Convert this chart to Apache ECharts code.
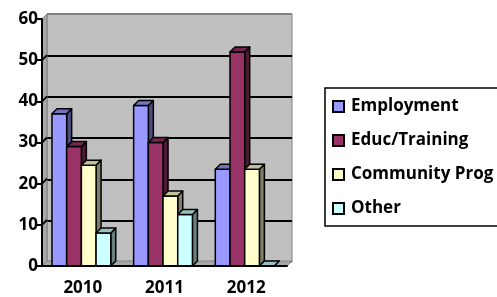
<!DOCTYPE html>
<html>
<head>
    <meta charset="utf-8">
    <script src="https://cdn.jsdelivr.net/npm/echarts@6/dist/echarts.min.js"></script>
    <style>
        html, body { margin: 0; padding: 0; background: #fff; }
    </style>
</head>
<body>
<div id="main" style="width: 497px;height:297px;"></div>
<script type="text/javascript">
    // chart data
    const years = ['2010', '2011', '2012'];
    const employment = [37, 39, 23.5];
    const educTraining = [29, 30, 52];
    const communityProg = [24.5, 17, 23.5];
    const other = [8, 12.5, 0];
    const gridValues = [10, 20, 30, 40, 50];

    const font = 'Open Sans';
    const depth = 5;

    // front face / top face / side face colours per series
    const looks = [
        {name: 'Employment', data: employment, front: '#9999ff', top: '#7373c0', side: '#4d4d80'},
        {name: 'Educ/Training', data: educTraining, front: '#993366', top: '#73264d', side: '#4d1a33'},
        {name: 'Community Prog', data: communityProg, front: '#ffffcc', top: '#c0c099', side: '#808066'},
        {name: 'Other', data: other, front: '#ccffff', top: '#99c0c0', side: '#668080'}
    ];

    function barRenderer(k, look) {
        return function (params, api) {
            const i = api.value(0), v = api.value(1);
            const base = api.coord([i, 0]);
            const tip = api.coord([i, v]);
            const band = api.size([1, 0])[0];
            const w = band * 0.18;
            const x0 = base[0] - band / 2 + band * 0.122 + k * w;
            const yT = tip[1], yB = base[1];
            const line = {stroke: '#000', lineWidth: 1.5, lineJoin: 'round'};
            return {
                type: 'group', children: [
                    {type: 'polygon', shape: {points: [[x0 + w, yT], [x0 + w + depth, yT - depth], [x0 + w + depth, yB - depth], [x0 + w, yB]]},
                        style: Object.assign({fill: look.side}, line)},
                    {type: 'rect', shape: {x: x0, y: yT, width: w, height: yB - yT},
                        style: Object.assign({fill: look.front}, line)},
                    {type: 'polygon', shape: {points: [[x0, yT], [x0 + depth, yT - depth], [x0 + w + depth, yT - depth], [x0 + w, yT]]},
                        style: Object.assign({fill: look.top}, line)}
                ]
            };
        };
    }

    // left wall and floor of the 3D box
    function wallRenderer(params, api) {
        const cs = params.coordSys;
        const x = cs.x, y = cs.y, w = cs.width, h = cs.height;
        const children = [
            {type: 'polygon', shape: {points: [[x, y], [x + depth, y - depth], [x + depth, y + h - depth], [x, y + h]]},
                style: {fill: '#a8a8a8', stroke: '#808080', lineWidth: 1}},
            {type: 'polygon', shape: {points: [[x, y + h], [x + depth, y + h - depth], [x + w + depth, y + h - depth], [x + w, y + h]]},
                style: {fill: '#a8a8a8', stroke: '#808080', lineWidth: 1}}
        ];
        gridValues.forEach(function (v) {
            const p = api.coord([0, v]);
            children.push({type: 'line', shape: {x1: x, y1: p[1], x2: x + depth, y2: p[1] - depth},
                style: {stroke: '#000', lineWidth: 2}});
        });
        return {type: 'group', children: children};
    }

    const myChart = echarts.init(document.getElementById('main'));

    const series = [{
        type: 'custom',
        name: 'walls',
        xAxisIndex: 0,
        yAxisIndex: 0,
        data: [[0, 0]],
        renderItem: wallRenderer,
        silent: true,
        z: 1
    }];
    looks.forEach(function (look, k) {
        series.push({
            type: 'custom',
            name: look.name,
            xAxisIndex: 0,
            yAxisIndex: 0,
            itemStyle: {color: look.front},
            encode: {x: 0, y: 1},
            data: look.data.map(function (v, i) { return [i, v]; }),
            renderItem: barRenderer(k, look),
            z: 3
        });
    });

    const option = {
        animation: false,
        textStyle: {fontFamily: font},
        grid: [
            {left: 42, right: 210, top: 19, bottom: 30},
            {left: 42 + depth, right: 210 - depth, top: 19 - depth, bottom: 30 + depth,
                show: true, backgroundColor: '#c0c0c0', borderColor: '#808080', borderWidth: 1, z: 0}
        ],
        legend: {
            orient: 'vertical',
            left: 325,
            top: 88,
            data: looks.map(function (l) { return l.name; }),
            icon: 'rect',
            itemWidth: 11,
            itemHeight: 11,
            itemGap: 17,
            padding: [10, 8, 9, 7],
            borderColor: '#000',
            borderWidth: 1.5,
            itemStyle: {borderColor: '#000', borderWidth: 2},
            textStyle: {fontFamily: font, fontSize: 17, fontWeight: 'bold', color: '#000', padding: [0, 0, 0, 2]}
        },
        xAxis: [{
            gridIndex: 0,
            type: 'category',
            data: years,
            axisLine: {lineStyle: {color: '#000', width: 2}},
            axisTick: {length: 5, lineStyle: {color: '#000', width: 2}},
            axisLabel: {color: '#000', fontSize: 17, fontWeight: 'bold', fontFamily: font, margin: 14},
            z: 5
        }, {
            gridIndex: 1,
            type: 'category',
            data: years,
            show: false
        }],
        yAxis: [{
            gridIndex: 0,
            type: 'value',
            min: 0,
            max: 60,
            interval: 10,
            axisLine: {show: true, lineStyle: {color: '#000', width: 2}},
            axisTick: {show: true, length: 5, lineStyle: {color: '#000', width: 2}},
            axisLabel: {color: '#000', fontSize: 17, fontWeight: 'bold', fontFamily: font, margin: 4},
            splitLine: {show: false},
            z: 5
        }, {
            gridIndex: 1,
            type: 'value',
            min: 0,
            max: 60,
            interval: 10,
            axisLine: {show: false},
            axisTick: {show: false},
            axisLabel: {show: false},
            splitLine: {show: true, lineStyle: {color: ['#808080', '#000', '#000', '#000', '#000', '#000', '#808080'], width: 2}}
        }],
        series: series
    };

    myChart.setOption(option);
</script>
</body>
</html>
